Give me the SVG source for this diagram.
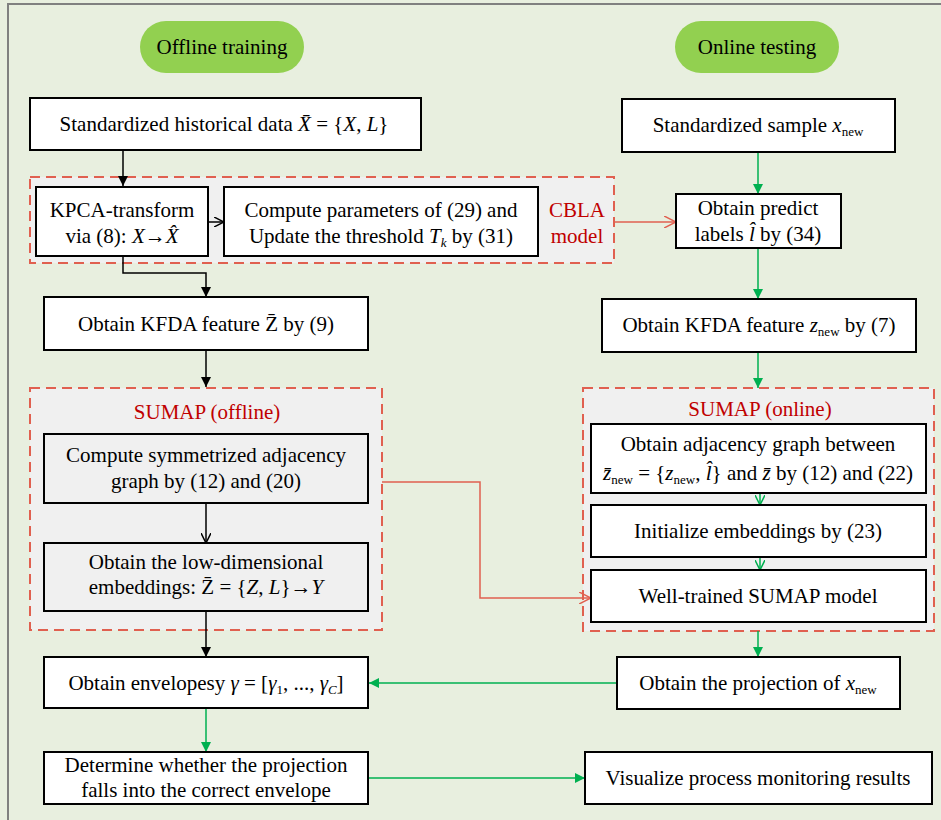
<svg xmlns="http://www.w3.org/2000/svg" width="941" height="820" viewBox="0 0 941 820" font-family="'Liberation Serif', 'DejaVu Serif', serif">
<defs>
<style>
.t{font-family:'Liberation Serif','DejaVu Serif',serif;font-size:21px;fill:#000;text-anchor:middle}
.r{fill:#c00000}
.i{font-style:italic}
.s{font-size:13px}
.box{fill:#fff;stroke:#000;stroke-width:2}
.grp{fill:#f0f0f0;stroke:#e06050;stroke-width:2;stroke-dasharray:10,6}
.pill{fill:#92d050}
.k{stroke:#000;stroke-width:1.5;fill:none}
.g{stroke:#00b050;stroke-width:1.5;fill:none}
.rd{stroke:#e06050;stroke-width:1.5;fill:none}
</style>
<marker id="kf" viewBox="0 0 10 10" refX="10" refY="5" markerWidth="10" markerHeight="10" markerUnits="userSpaceOnUse" orient="auto"><path d="M0,0 L10,5 L0,10 Z" fill="#000"/></marker>
<marker id="ko" viewBox="0 0 10 10" refX="10" refY="5" markerWidth="10" markerHeight="10" markerUnits="userSpaceOnUse" orient="auto"><path d="M0,0 L10,5 L0,10" fill="none" stroke="#000" stroke-width="1.5"/></marker>
<marker id="gf" viewBox="0 0 10 10" refX="10" refY="5" markerWidth="10" markerHeight="10" markerUnits="userSpaceOnUse" orient="auto"><path d="M0,0 L10,5 L0,10 Z" fill="#00b050"/></marker>
<marker id="go" viewBox="0 0 10 10" refX="10" refY="5" markerWidth="10" markerHeight="10" markerUnits="userSpaceOnUse" orient="auto"><path d="M0,0 L10,5 L0,10" fill="none" stroke="#00b050" stroke-width="1.5"/></marker>
<marker id="ro" viewBox="0 0 10 10" refX="10" refY="5" markerWidth="12" markerHeight="12" markerUnits="userSpaceOnUse" orient="auto"><path d="M0,0 L10,5 L0,10" fill="none" stroke="#e06050" stroke-width="1.3"/></marker>
</defs>
<rect x="0" y="0" width="941" height="820" fill="#e8efdf"/>
<path d="M8,820 V4 H941" fill="none" stroke="#808080" stroke-width="2"/>

<g id="groups">
<rect id="cbla" class="grp" x="30" y="177" width="584" height="86"/>
<rect id="sumap-offline" class="grp" x="30" y="388" width="352" height="242"/>
<rect id="sumap-online" class="grp" x="583" y="388" width="351" height="243"/>
<text class="t r" x="577" y="217">CBLA</text>
<text class="t r" x="577" y="243">model</text>
<text class="t r" x="207" y="419">SUMAP (offline)</text>
<text class="t r" x="760" y="416">SUMAP (online)</text>
</g>

<g id="connectors">
<path class="k" d="M123,150 V186" marker-end="url(#kf)"/>
<path class="k" d="M208,222 H224" marker-end="url(#ko)"/>
<path class="k" d="M123,256 V273 H206 V297" marker-end="url(#kf)"/>
<path class="k" d="M206,350 V387" marker-end="url(#kf)"/>
<path class="k" d="M206,503 V543" marker-end="url(#ko)"/>
<path class="k" d="M206,611 V657" marker-end="url(#kf)"/>
<path class="rd" d="M614,222 H676" marker-end="url(#ro)"/>
<path class="rd" d="M382,482 H480 V598 H591" marker-end="url(#ro)"/>
<path class="g" d="M758,152 V194" marker-end="url(#gf)"/>
<path class="g" d="M758,248 V299" marker-end="url(#gf)"/>
<path class="g" d="M758,352 V388" marker-end="url(#gf)"/>
<path class="g" d="M760,493 V505" marker-end="url(#go)"/>
<path class="g" d="M760,557 V570" marker-end="url(#go)"/>
<path class="g" d="M758,631 V657" marker-end="url(#gf)"/>
<path class="g" d="M617,683 H369" marker-end="url(#gf)"/>
<path class="g" d="M206,708 V752" marker-end="url(#gf)"/>
<path class="g" d="M368,778 H585" marker-end="url(#gf)"/>
</g>

<g id="offline-training">
<rect class="pill" x="140" y="21" width="164" height="52" rx="26"/>
<text class="t" x="222" y="54">Offline training</text>
</g>
<g id="online-testing">
<rect class="pill" x="675" y="21" width="164" height="52" rx="26"/>
<text class="t" x="757" y="54">Online testing</text>
</g>

<g id="hist-data">
<rect class="box" x="30" y="98" width="391" height="52"/>
<text class="t" x="224" y="131">Standardized historical data <tspan class="i">X̄</tspan> = {<tspan class="i">X</tspan>, <tspan class="i">L</tspan>}</text>
</g>
<g id="std-sample">
<rect class="box" x="622" y="99" width="273" height="53"/>
<text class="t" x="758" y="132">Standardized sample <tspan class="i">x</tspan><tspan class="s" baseline-shift="-4">new</tspan></text>
</g>
<g id="kpca">
<rect class="box" x="36" y="187" width="172" height="69"/>
<text class="t" x="122" y="217">KPCA-transform</text>
<text class="t" x="122" y="243">via (8): <tspan class="i">X</tspan>→<tspan class="i">X̂</tspan></text>
</g>
<g id="compute-params">
<rect class="box" x="224" y="187" width="314" height="69"/>
<text class="t" x="381" y="217">Compute parameters of (29) and</text>
<text class="t" x="381" y="243">Update the threshold <tspan class="i">T</tspan><tspan class="s i" baseline-shift="-4">k</tspan> by (31)</text>
</g>
<g id="predict">
<rect class="box" x="676" y="194" width="165" height="54"/>
<text class="t" x="758" y="215">Obtain predict</text>
<text class="t" x="758" y="241">labels <tspan class="i">l̂</tspan> by (34)</text>
</g>
<g id="kfda-offline">
<rect class="box" x="44" y="297" width="324" height="53"/>
<text class="t" x="206" y="331">Obtain KFDA feature <tspan>Z̄</tspan> by (9)</text>
</g>
<g id="kfda-online">
<rect class="box" x="602" y="299" width="314" height="53"/>
<text class="t" x="759" y="332">Obtain KFDA feature <tspan class="i">z</tspan><tspan class="s" baseline-shift="-4">new</tspan> by (7)</text>
</g>
<g id="sym-adj">
<rect class="box" x="44" y="434" width="324" height="69" style="fill:#f0f0f0"/>
<text class="t" x="206" y="462">Compute symmetrized adjacency</text>
<text class="t" x="206" y="488">graph by (12) and (20)</text>
</g>
<g id="low-dim">
<rect class="box" x="44" y="543" width="324" height="68" style="fill:#f0f0f0"/>
<text class="t" x="206" y="569">Obtain the low-dimensional</text>
<text class="t" x="206" y="594">embeddings: <tspan>Z̄</tspan> = {<tspan class="i">Z</tspan>, <tspan class="i">L</tspan>}→<tspan class="i">Y</tspan></text>
</g>
<g id="adj-online">
<rect class="box" x="591" y="424" width="335" height="69"/>
<text class="t" x="758" y="451">Obtain adjacency graph between</text>
<text class="t" x="758" y="480"><tspan class="i">z̄</tspan><tspan class="s" baseline-shift="-4">new</tspan> = {<tspan class="i">z</tspan><tspan class="s" baseline-shift="-4">new</tspan>, <tspan class="i">l̂</tspan>} and <tspan class="i">z̄</tspan> by (12) and (22)</text>
</g>
<g id="init-emb">
<rect class="box" x="591" y="505" width="335" height="52"/>
<text class="t" x="758" y="538">Initialize embeddings by (23)</text>
</g>
<g id="well-trained">
<rect class="box" x="591" y="570" width="335" height="52"/>
<text class="t" x="758" y="603">Well-trained SUMAP model</text>
</g>
<g id="envelope">
<rect class="box" x="44" y="657" width="324" height="51"/>
<text class="t" x="206" y="690">Obtain envelopesy <tspan class="i">γ</tspan> = [<tspan class="i">γ</tspan><tspan class="s" baseline-shift="-4">1</tspan>, ..., <tspan class="i">γ</tspan><tspan class="s i" baseline-shift="-4">C</tspan>]</text>
</g>
<g id="projection">
<rect class="box" x="617" y="657" width="283" height="52"/>
<text class="t" x="758" y="690">Obtain the projection of <tspan class="i">x</tspan><tspan class="s" baseline-shift="-4">new</tspan></text>
</g>
<g id="determine">
<rect class="box" x="44" y="752" width="324" height="52"/>
<text class="t" x="206" y="772">Determine whether the projection</text>
<text class="t" x="206" y="797">falls into the correct envelope</text>
</g>
<g id="visualize">
<rect class="box" x="585" y="752" width="347" height="52"/>
<text class="t" x="758" y="785">Visualize process monitoring results</text>
</g>
</svg>
